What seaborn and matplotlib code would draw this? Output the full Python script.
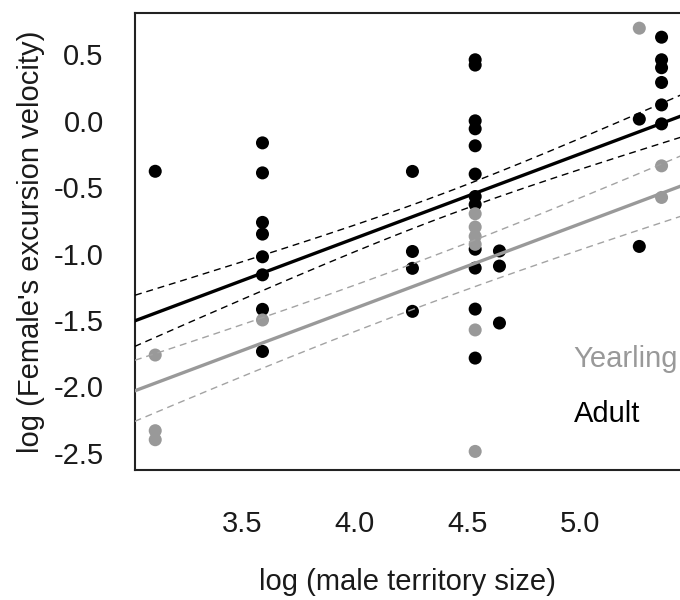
import numpy as np
import pandas as pd
import matplotlib
matplotlib.use("Agg")
import matplotlib.pyplot as plt
import seaborn as sns

# ---- data ----
adult_x = [3.113,
           3.59, 3.59, 3.59, 3.59, 3.59, 3.59, 3.59, 3.59,
           4.257, 4.257, 4.257, 4.257,
           4.536, 4.536, 4.536, 4.536, 4.536, 4.536, 4.536, 4.536, 4.536, 4.536, 4.536, 4.536,
           4.644, 4.644, 4.644,
           5.266, 5.266,
           5.365, 5.365, 5.365, 5.365, 5.365, 5.365]
adult_y = [-0.38,
           -0.166, -0.392, -0.765, -0.853, -1.024, -1.16, -1.42, -1.737,
           -0.381, -0.984, -1.111, -1.435,
           0.46, 0.42, 0.0, -0.06, -0.188, -0.401, -0.57, -0.63, -0.967, -1.109, -1.418, -1.787,
           -0.98, -1.094, -1.523,
           0.013, -0.946,
           0.63, 0.46, 0.40, 0.289, 0.12, -0.023]

yearling_x = [3.113, 3.113, 3.113,
              3.59,
              4.536, 4.536, 4.536, 4.536, 4.536, 4.536,
              5.266,
              5.365, 5.365]
yearling_y = [-1.764, -2.334, -2.402,
              -1.50,
              -0.70, -0.80, -0.87, -0.93, -1.575, -2.49,
              0.698,
              -0.339, -0.577]

groups = ["Yearling", "Adult"]
group_colors = ["#999999", "#000000"]
ci_colors = ["#a3a3a3", "#000000"]

# fitted model (common slope, group intercepts) and CI shape parameters
common_slope = 0.635
intercepts = [-3.9526, -3.4256]        # Yearling, Adult
ci_min_halfwidth = [0.172, 0.088]      # at the CI waist
ci_spread = [0.124, 0.125]
ci_center_x = [4.25, 4.39]

x_ticks = [3.5, 4.0, 4.5, 5.0]
y_ticks = [-2.5, -2.0, -1.5, -1.0, -0.5, 0.0, 0.5]
x_label = "log (male territory size)"
y_label = "log (Female's excursion velocity)"

# ---- figure ----
sns.set_style("white")
plt.rcParams["font.family"] = ["Liberation Sans", "DejaVu Sans"]
plt.rcParams["axes.unicode_minus"] = False

df = pd.DataFrame({
    "x": adult_x + yearling_x,
    "y": adult_y + yearling_y,
    "age": ["Adult"] * len(adult_x) + ["Yearling"] * len(yearling_x),
})

fig = plt.figure(figsize=(6.8, 6.0), dpi=100)
ax = fig.add_axes([135 / 680, 1 - 470 / 600, 545 / 680, (470 - 13.3) / 600])

sns.scatterplot(data=df, x="x", y="y", hue="age", hue_order=["Adult", "Yearling"],
                palette={"Adult": "#000000", "Yearling": "#999999"},
                s=88, linewidth=0, legend=False, ax=ax, zorder=2)

xlim = (3.023, 5.447)
ylim = (-2.63, 0.81)
xs = np.linspace(xlim[0] - 0.05, xlim[1] + 0.05, 200)
for i, g in enumerate(groups):
    fit = intercepts[i] + common_slope * xs
    hw = np.sqrt(ci_min_halfwidth[i] ** 2 + (ci_spread[i] * (xs - ci_center_x[i])) ** 2)
    ax.plot(xs, fit, color=group_colors[i], lw=2.4, zorder=3, solid_capstyle="butt")
    for sgn in (-1, 1):
        ax.plot(xs, fit + sgn * hw, color=ci_colors[i], lw=1.0,
                linestyle=(0, (5, 3.5)), zorder=3)

ax.set_xlim(*xlim)
ax.set_ylim(*ylim)
ax.set_xticks(x_ticks)
ax.set_xticklabels([f"{v:.1f}" for v in x_ticks])
ax.set_yticks(y_ticks)
ax.set_yticklabels([f"{v:.1f}" for v in y_ticks])
ax.tick_params(axis="both", direction="out", length=11.5, width=1.2,
               labelsize=21, color="#222222", labelcolor="#1a1a1a")
ax.tick_params(axis="x", pad=17)
ax.tick_params(axis="y", pad=11)

for side in ["left", "top", "bottom"]:
    ax.spines[side].set_visible(True)
    ax.spines[side].set_linewidth(1.5)
    ax.spines[side].set_color("#222222")
ax.spines["right"].set_visible(False)

ax.set_xlabel(x_label, fontsize=21, color="#1a1a1a", va="center")
ax.set_ylabel(y_label, fontsize=21, color="#1a1a1a", va="center", ha="center")
ax.xaxis.set_label_coords(0.5, (470 - 582) / 456.7)
ax.yaxis.set_label_coords((31 - 135) / 545, 0.5)

# legend texts
for i, g in enumerate(groups):
    ypos = [0.243, 0.122][i]
    ax.text(0.805, ypos, g, transform=ax.transAxes, fontsize=21,
            color=group_colors[i], ha="left", va="center")

fig.savefig("out.png", dpi=100, facecolor="white")
